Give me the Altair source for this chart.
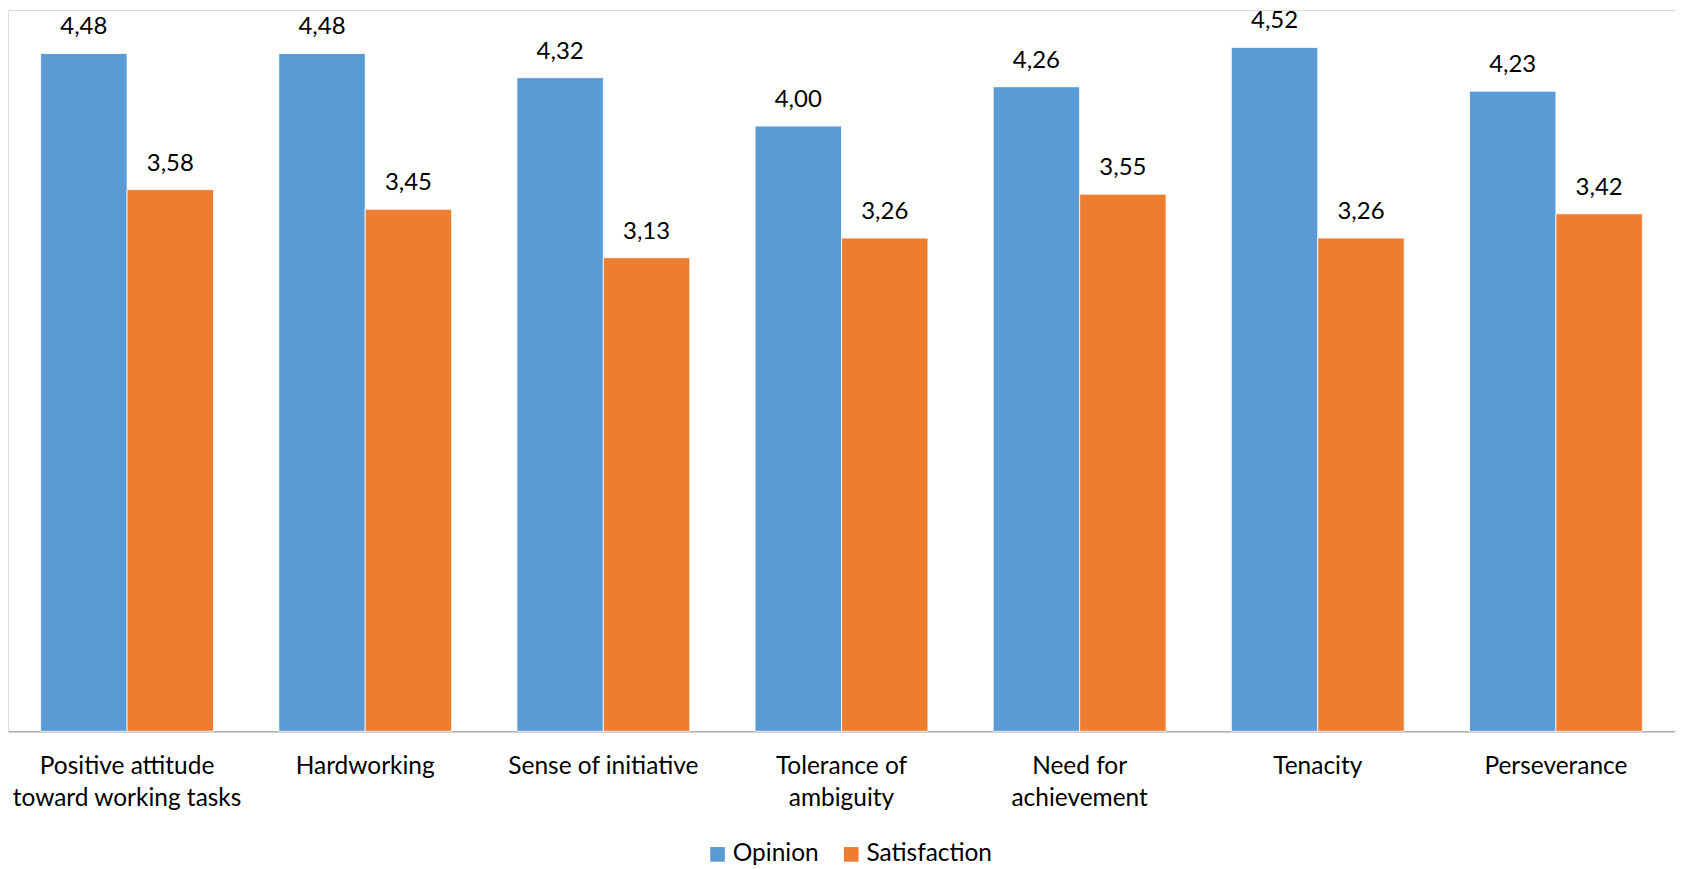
import altair as alt
import pandas as pd

categories = [
    "Positive attitude\ntoward working tasks",
    "Hardworking",
    "Sense of initiative",
    "Tolerance of\nambiguity",
    "Need for\nachievement",
    "Tenacity",
    "Perseverance",
]
series = ["Opinion", "Satisfaction"]
opinion = [4.48, 4.48, 4.32, 4.00, 4.26, 4.52, 4.23]
satisfaction = [3.58, 3.45, 3.13, 3.26, 3.55, 3.26, 3.42]
colors = ["#5B9BD5", "#ED7D31"]

rows = []
for c, o, s in zip(categories, opinion, satisfaction):
    rows.append({"category": c, "series": series[0], "value": o})
    rows.append({"category": c, "series": series[1], "value": s})
df = pd.DataFrame(rows)

FONT = "Lato"

x = alt.X(
    "category:N",
    sort=categories,
    scale=alt.Scale(paddingInner=0.274, paddingOuter=0.137),
    axis=alt.Axis(
        title=None,
        labelAngle=0,
        ticks=False,
        tickSize=0,
        labelExpr="split(datum.label, '\\n')",
        labelFont=FONT,
        labelFontSize=24.5,
        labelColor="#000000",
        labelLineHeight=32,
        labelPadding=23,
        labelLimit=0,
        labelOverlap=False,
        domainColor="#ADADAD",
        domainWidth=1.5,
        grid=False,
    ),
)
xo = alt.XOffset("series:N", sort=series, scale=alt.Scale(paddingInner=0, paddingOuter=0))
y = alt.Y("value:Q", scale=alt.Scale(domain=[0, 4.767], nice=False, zero=True), axis=None)

bars = alt.Chart(df).mark_bar(stroke="white", strokeWidth=0.8).encode(
    x=x,
    xOffset=xo,
    y=y,
    color=alt.Color(
        "series:N",
        sort=series,
        scale=alt.Scale(domain=series, range=colors),
        legend=alt.Legend(
            orient="none",
            legendX=699,
            legendY=834,
            direction="horizontal",
            title=None,
            symbolType="square",
            symbolSize=216,
            symbolStrokeWidth=0,
            labelFont=FONT,
            labelFontSize=24.5,
            labelColor="#000000",
            labelOffset=3,
            columnPadding=20,
            padding=0,
        ),
    ),
)

labels = alt.Chart(df).transform_calculate(
    label="replace(format(datum.value, '.2f'), '.', ',')"
).mark_text(
    dy=-19, baseline="alphabetic", align="center", font=FONT, fontSize=24, color="#000000"
).encode(
    x=x,
    xOffset=xo,
    y=y,
    text="label:N",
)

chart = (
    alt.layer(bars, labels)
    .properties(width=1671, height=723, padding={"left": 0, "top": 0, "right": 0, "bottom": 0})
    .configure_view(stroke=None)
    .configure(background="white")
)

chart.save("out.html", embed_options={"renderer": "svg", "actions": False})
